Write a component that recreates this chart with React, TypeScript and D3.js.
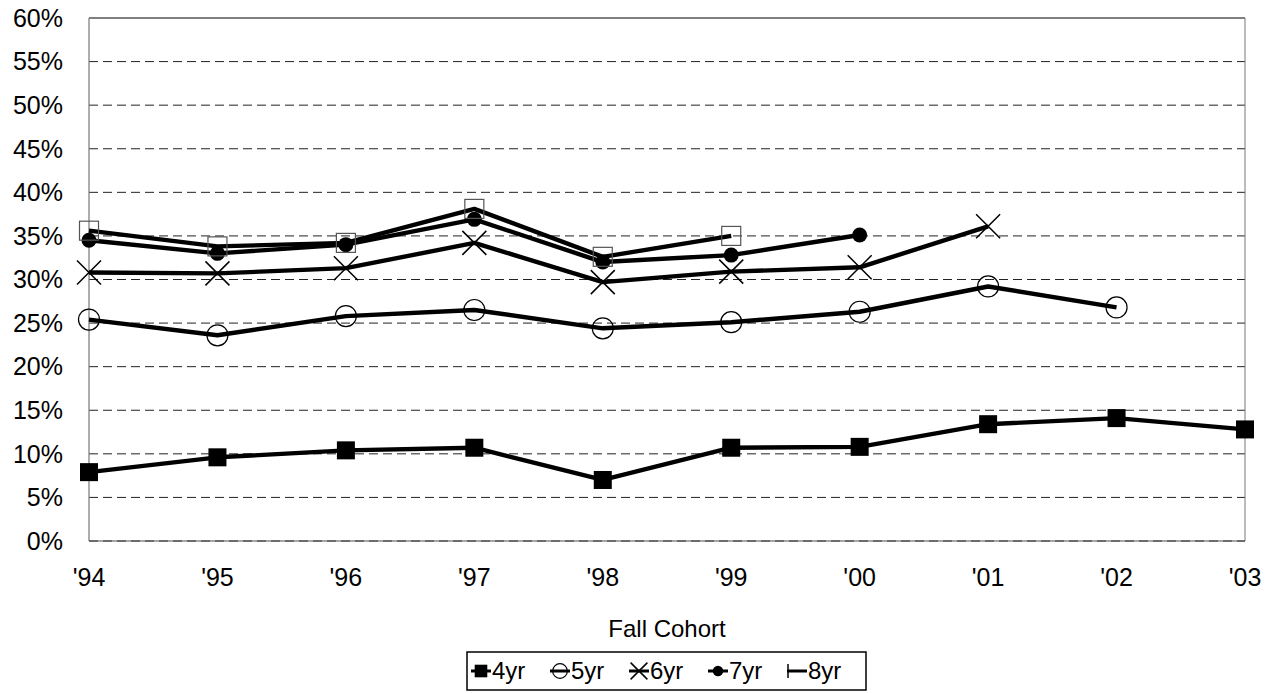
import React from 'react';
import * as d3 from 'd3';

// cohort labels along the x axis
const cohorts = ["'94", "'95", "'96", "'97", "'98", "'99", "'00", "'01", "'02", "'03"];
const yTicks = [0, 5, 10, 15, 20, 25, 30, 35, 40, 45, 50, 55, 60];

// graduation rates (%) by years since entry
const yr4 = [7.9, 9.6, 10.4, 10.7, 7.0, 10.7, 10.8, 13.4, 14.1, 12.8];
const yr5 = [25.4, 23.6, 25.8, 26.5, 24.4, 25.1, 26.3, 29.2, 26.8];
const yr6 = [30.8, 30.7, 31.3, 34.2, 29.7, 30.9, 31.4, 36.1];
const yr7 = [34.5, 33.0, 34.0, 36.9, 32.0, 32.8, 35.1];
const yr8 = [35.6, 33.8, 34.2, 38.1, 32.6, 35.0];

const seriesNames = ['4yr', '5yr', '6yr', '7yr', '8yr'];
const seriesValues = [yr4, yr5, yr6, yr7, yr8];

const W = 1276;
const H = 693;
const margin = { top: 18, right: 31, bottom: 152, left: 89 };
const FONT = '"Liberation Sans", Arial, sans-serif';

const Marker: React.FC<{ kind: string; x: number; y: number; s?: number }> = ({ kind, x, y, s = 1 }) => {
  if (kind === '4yr') {
    const h = 9 * s;
    return <rect x={x - h} y={y - h} width={h * 2} height={h * 2} fill="#000" />;
  }
  if (kind === '5yr') {
    return <circle cx={x} cy={y} r={10.5 * s} fill="none" stroke="#000" strokeWidth={1.2} />;
  }
  if (kind === '6yr') {
    const h = 12 * s;
    return (
      <path d={`M${x - h},${y - h}L${x + h},${y + h}M${x - h},${y + h}L${x + h},${y - h}`} stroke="#000" strokeWidth={1.5} fill="none" />
    );
  }
  if (kind === '7yr') {
    return <circle cx={x} cy={y} r={7.5 * s} fill="#000" />;
  }
  const h = 9.5 * s;
  return <rect x={x - h} y={y - h} width={h * 2} height={h * 2} fill="none" stroke="#555" strokeWidth={1.2} />;
};

const App: React.FC = () => {
  const innerLeft = margin.left;
  const innerRight = W - margin.right;
  const innerTop = margin.top;

  const x = d3.scalePoint<string>().domain(cohorts).range([innerLeft, innerRight]).padding(0);
  const y = d3.scaleLinear().domain([0, 60]).range([541, innerTop]);

  const line = d3
    .line<number>()
    .x((_, i) => x(cohorts[i]) as number)
    .y(d => y(d));

  const legendX = d3.scaleBand<string>().domain(seriesNames).range([471, 866]);

  return (
    <svg width={W} height={H} style={{ position: 'absolute', left: 0, top: 0, background: '#fff' }} fontFamily={FONT}>
      <rect width={W} height={H} fill="#fff" />

      {/* gridlines */}
      {yTicks.slice(1, -1).map(t => (
        <line key={t} x1={innerLeft} x2={innerRight} y1={y(t)} y2={y(t)} stroke="#222" strokeWidth={1} strokeDasharray="9,5" />
      ))}

      {/* frame */}
      <line x1={innerLeft} x2={innerRight} y1={y(60)} y2={y(60)} stroke="#000" strokeWidth={1.2} />
      <line x1={innerRight} x2={innerRight} y1={y(60)} y2={y(0)} stroke="#777" strokeWidth={1} />
      <line x1={innerLeft} x2={innerLeft} y1={y(60)} y2={y(0)} stroke="#777" strokeWidth={1.2} />
      <line x1={innerLeft} x2={innerRight} y1={y(0)} y2={y(0)} stroke="#888" strokeWidth={1.5} />
      <line x1={innerLeft} x2={innerRight} y1={y(0)} y2={y(0)} stroke="#333" strokeWidth={1} strokeDasharray="9,5" />

      {/* y tick labels */}
      {yTicks.map(t => (
        <text key={t} x={63} y={y(t)} dy="0.35em" textAnchor="end" fontSize={25} fill="#000">
          {t}%
        </text>
      ))}

      {/* x tick labels */}
      {cohorts.map(c => (
        <text key={c} x={x(c) as number} y={577} dy="0.35em" textAnchor="middle" fontSize={25} fill="#000">
          {c}
        </text>
      ))}

      <text x={(innerLeft + innerRight) / 2} y={629} dy="0.35em" textAnchor="middle" fontSize={24} fill="#000">
        Fall Cohort
      </text>

      {/* series */}
      {seriesValues.map((vals, si) => (
        <g key={seriesNames[si]}>
          <path d={line(vals) || ''} fill="none" stroke="#000" strokeWidth={4.4} strokeLinejoin="round" />
          {vals.map((v, i) => (
            <Marker key={i} kind={seriesNames[si]} x={x(cohorts[i]) as number} y={y(v)} />
          ))}
        </g>
      ))}

      {/* legend */}
      <rect x={467} y={652} width={399} height={38} fill="#fff" stroke="#000" strokeWidth={1.5} />
      {seriesNames.map(n => {
        const lx = legendX(n) as number;
        const cy = 671;
        return (
          <g key={n}>
            <line x1={lx} x2={lx + 20} y1={cy} y2={cy} stroke="#000" strokeWidth={3} />
            {n === '8yr' ? (
              <line x1={lx + 1} x2={lx + 1} y1={cy - 7} y2={cy + 7} stroke="#000" strokeWidth={1.5} />
            ) : (
              <Marker kind={n} x={lx + 10} y={cy} s={0.7} />
            )}
            <text x={lx + 21} y={cy} dy="0.35em" fontSize={24} fill="#000">
              {n}
            </text>
          </g>
        );
      })}
    </svg>
  );
};

export default App;
